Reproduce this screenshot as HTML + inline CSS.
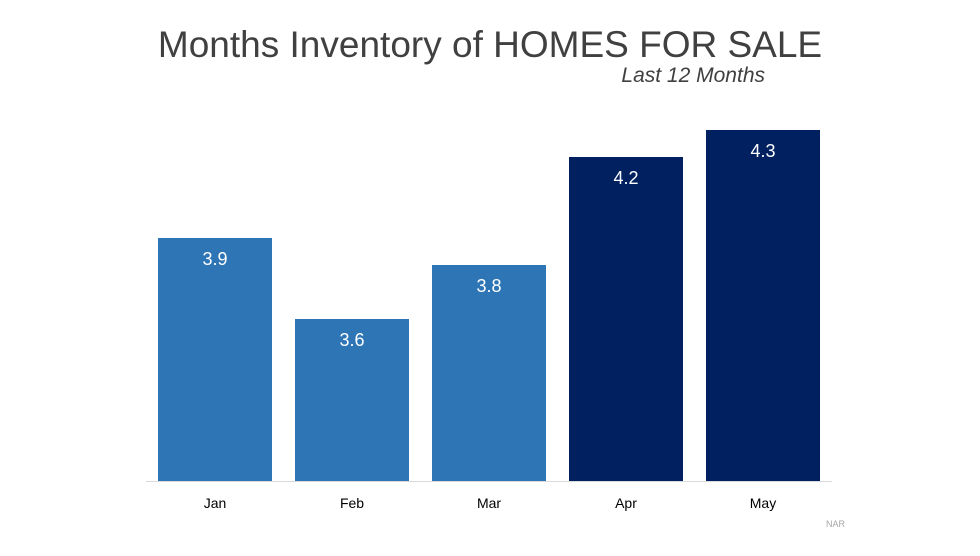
<!DOCTYPE html>
<html><head><meta charset="utf-8">
<style>
html,body{margin:0;padding:0;background:#fff;}
body{width:980px;height:551px;overflow:hidden;font-family:"Liberation Sans",sans-serif;}
</style></head>
<body>
<svg width="980" height="551" viewBox="0 0 980 551">
<text x="490" y="57" text-anchor="middle" font-size="37" fill="#404040">Months Inventory of HOMES FOR SALE</text>
<text x="765" y="82" text-anchor="end" font-size="21" font-style="italic" fill="#404040">Last 12 Months</text>
<line x1="146" y1="481.5" x2="832" y2="481.5" stroke="#d9d9d9" stroke-width="1"/>
<g id="bars"></g>
<text x="826" y="527" font-size="9" fill="#a6a6a6">NAR</text>
</svg>
<script>
const categories = ["Jan","Feb","Mar","Apr","May"];
const values = [3.9,3.6,3.8,4.2,4.3];
const valueLabels = ["3.9","3.6","3.8","4.2","4.3"];
const highlight = [false,false,false,true,true];

const NS="http://www.w3.org/2000/svg";
const yMin=3.0, baseY=481, pxPerUnit=270;
const y=v=>baseY-(v-yMin)*pxPerUnit;
const x0=158, step=137, bw=114;
const xPos=i=>x0+i*step;
const g=document.getElementById("bars");
categories.forEach((c,i)=>{
  const top=y(values[i]);
  const r=document.createElementNS(NS,"rect");
  r.setAttribute("x",xPos(i));r.setAttribute("y",top);
  r.setAttribute("width",bw);r.setAttribute("height",baseY-top);
  r.setAttribute("fill",highlight[i]?"#002060":"#2E75B6");
  
  
  g.appendChild(r);
  const t=document.createElementNS(NS,"text");
  t.setAttribute("x",xPos(i)+bw/2);t.setAttribute("y",top+27);
  t.setAttribute("text-anchor","middle");t.setAttribute("font-size","18");t.setAttribute("fill","#fff");
  t.textContent=valueLabels[i];
  
  
  g.appendChild(t);
  const l=document.createElementNS(NS,"text");
  l.setAttribute("x",xPos(i)+bw/2);l.setAttribute("y",508);
  l.setAttribute("text-anchor","middle");l.setAttribute("font-size","14");l.setAttribute("fill","#000");
  l.textContent=c;
  
  
  g.appendChild(l);
});
</script>
</body></html>
